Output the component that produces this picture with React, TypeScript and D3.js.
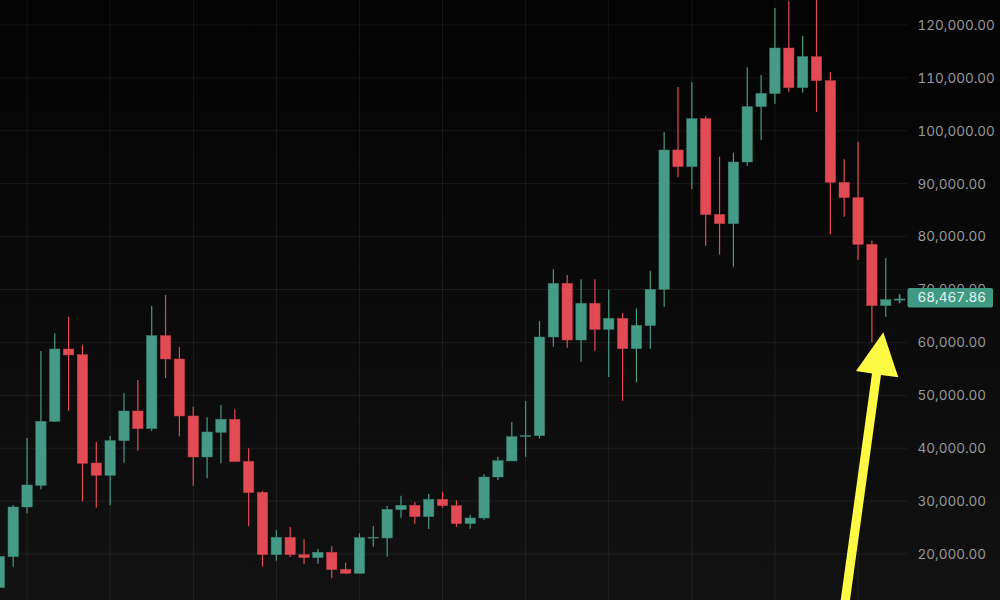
import { useEffect, useRef } from 'react'
import * as d3 from 'd3'

const opens = [13639, 19499, 28887, 32983, 45081, 58754, 57683, 37204, 34873, 41426, 47034, 43695, 61274, 56864, 46089, 38339, 43001, 45458, 37519, 31659, 19877, 23153, 19877, 19310, 20318, 17105, 16348, 23089, 23028, 28383, 29202, 27060, 30336, 29139, 25736, 26807, 34557, 37582, 42245, 42371, 61022, 71167, 60455, 67386, 62471, 64551, 58817, 63164, 70035, 96373, 93223, 102296, 84212, 82448, 94105, 104565, 107022, 115655, 108156, 114016, 109479, 90262, 87363, 78541, 66947, 68150]
const highs = [19562, 29265, 41930, 58376, 61715, 64866, 59510, 41174, 42308, 50374, 52894, 66882, 68961, 59069, 47853, 45836, 48168, 47349, 39977, 31911, 24539, 25106, 22775, 20947, 21453, 18364, 23909, 25295, 29075, 31030, 29832, 31343, 31785, 30147, 27375, 35061, 38402, 44954, 48924, 64047, 73813, 72742, 71923, 71923, 69969, 65559, 66441, 73561, 99776, 108282, 109228, 102737, 95113, 95869, 112000, 110551, 123216, 124539, 117986, 125358, 111118, 94609, 97948, 79234, 75958, 69094]
const lows = [13000, 17608, 27690, 32227, 44955, 47097, 29958, 28761, 29202, 37268, 39536, 43253, 53272, 42245, 32919, 34306, 37141, 37456, 25296, 17608, 18743, 19436, 18113, 18176, 15403, 16222, 16348, 21389, 19499, 26870, 25736, 24729, 28761, 25169, 24791, 26492, 33991, 37582, 38402, 41804, 59195, 59006, 56359, 58375, 53461, 48987, 52453, 58817, 66759, 91207, 88938, 78227, 76590, 74320, 93349, 98201, 105132, 107337, 107211, 103557, 80432, 83771, 75580, 60016, 64869, 67400]
const closes = [19562, 28887, 33046, 45081, 58754, 57620, 37141, 34873, 41426, 47034, 43695, 61274, 56864, 46089, 38339, 43064, 45458, 37456, 31596, 19877, 23153, 19877, 19310, 20318, 17040, 16348, 23089, 23152, 28446, 29202, 27060, 30336, 29139, 25736, 26807, 34557, 37645, 42182, 42371, 61022, 71167, 60455, 67386, 62471, 64551, 58817, 63227, 70032, 96373, 93223, 102296, 84150, 82448, 94105, 104565, 107085, 115655, 108156, 114016, 109479, 90262, 87363, 78541, 66947, 68083, 68250]

const priceTicks = [20000, 30000, 40000, 50000, 60000, 70000, 80000, 90000, 100000, 110000, 120000]
const timeGridIndexes = [2, 8, 14, 20, 26, 32, 38, 44, 50, 56, 62]
const lastPrice = 68467.86

const W = 1000
const H = 600
const plotRight = 907
const UP = '#469b86'
const DOWN = '#e34b54'

export default function App() {
  const ref = useRef<SVGSVGElement | null>(null)

  useEffect(() => {
    if (!ref.current) {return}
    const svg = d3.select(ref.current)
    svg.selectAll('*').remove()
    svg.attr('width', W).attr('height', H)

    const x = d3.scaleLinear().domain([0, 65]).range([-0.65, 899.6])
    const y = d3.scaleLinear().domain([20000, 120000]).range([554, 25])

    const grad = svg.append('defs').append('linearGradient')
      .attr('id', 'bg').attr('x1', 0).attr('x2', 0).attr('y1', 0).attr('y2', 1)
    grad.append('stop').attr('offset', '0%').attr('stop-color', '#030303')
    grad.append('stop').attr('offset', '100%').attr('stop-color', '#111111')
    svg.append('rect').attr('width', W).attr('height', H).attr('fill', 'url(#bg)')

    // grid
    const grid = svg.append('g').attr('stroke', '#ffffff').attr('stroke-opacity', 0.075).attr('stroke-width', 1)
    grid.selectAll('line.h').data(priceTicks).join('line').attr('class', 'h')
      .attr('x1', 0).attr('x2', plotRight)
      .attr('y1', (d) => y(d)).attr('y2', (d) => y(d))
    grid.selectAll('line.v').data(timeGridIndexes).join('line').attr('class', 'v')
      .attr('x1', (d) => x(d)).attr('x2', (d) => x(d))
      .attr('y1', 0).attr('y2', H)

    // candles
    const rows = d3.range(opens.length)
    const colorOf = (i: number) => (closes[i] >= opens[i] ? UP : DOWN)
    const candles = svg.append('g')
    candles.selectAll('line.wick').data(rows).join('line').attr('class', 'wick')
      .attr('x1', (i) => x(i)).attr('x2', (i) => x(i))
      .attr('y1', (i) => y(highs[i])).attr('y2', (i) => y(lows[i]))
      .attr('stroke', colorOf).attr('stroke-width', (i) => (i === opens.length - 1 ? 1.6 : 1.2))
    const bodyW = 10.4
    candles.selectAll('rect.body').data(rows.slice(0, -1)).join('rect').attr('class', 'body')
      .attr('x', (i) => x(i) - bodyW / 2)
      .attr('width', bodyW)
      .attr('y', (i) => y(Math.max(opens[i], closes[i])))
      .attr('height', (i) => Math.max(0.8, Math.abs(y(opens[i]) - y(closes[i]))))
      .attr('fill', colorOf)
      .attr('stroke', (i) => d3.color(colorOf(i))!.darker(0.5).formatHex())
      .attr('stroke-width', 0.5)
    // the candle still forming is only a cross
    const lastIdx = opens.length - 1
    candles.append('rect')
      .attr('x', x(lastIdx) - 5.5).attr('width', 11)
      .attr('y', y(closes[lastIdx])).attr('height', 1.6)
      .attr('fill', UP)

    // price axis
    const axis = d3.axisRight(y).tickValues(priceTicks).tickSize(0).tickPadding(0).tickFormat(d3.format(',.2f') as never)
    const axisG = svg.append('g').attr('transform', `translate(917.5,0)`).call(axis)
    axisG.select('.domain').remove()
    axisG.selectAll('text')
      .attr('fill', '#989898')
      .attr('font-family', 'Inter, sans-serif')
      .attr('font-size', 13.5)
      .style('font-variant-numeric', 'tabular-nums')

    // last price tag
    const tagY = y(lastPrice)
    svg.append('rect').attr('x', 907.5).attr('y', tagY - 9.5).attr('width', 85.5).attr('height', 19.5).attr('rx', 2)
      .attr('fill', '#409a83')
    svg.append('text').attr('x', 917.5).attr('y', tagY).attr('dy', '0.36em')
      .attr('fill', '#e6f4ef').attr('font-family', 'Inter, sans-serif').attr('font-size', 13.5)
      .style('font-variant-numeric', 'tabular-nums')
      .text(d3.format(',.2f')(lastPrice))

    // yellow annotation arrow
    svg.append('path')
      .attr('d', 'M883.3,332.3 L898.3,377.3 L881,375 L850,600 L840.7,600 L872,373.5 L856,371 Z')
      .attr('fill', '#fdf944')
  }, [])

  return <svg ref={ref} role="img" aria-label="Candlestick price chart" style={{ position: 'absolute', left: 0, top: 0, display: 'block' }} />
}
